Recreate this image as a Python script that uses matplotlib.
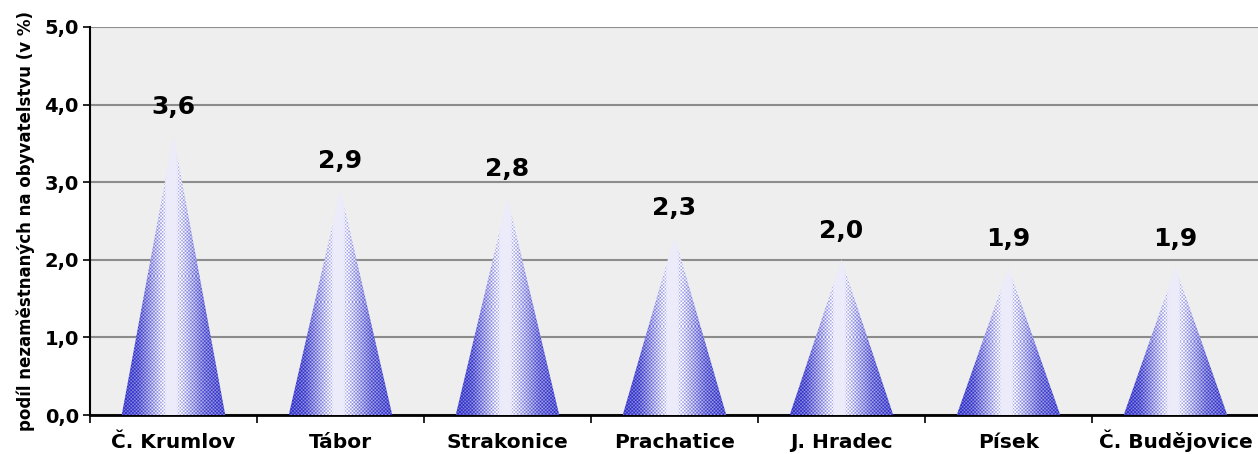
import matplotlib
matplotlib.use("Agg")
import matplotlib.pyplot as plt
import numpy as np
from matplotlib.patches import Polygon

# districts and share of unemployed in population (%)
okresy = ["Č. Krumlov", "Tábor", "Strakonice", "Prachatice", "J. Hradec", "Písek", "Č. Budějovice"]
podil = [3.6, 2.9, 2.8, 2.3, 2.0, 1.9, 1.9]
labels = ["3,6", "2,9", "2,8", "2,3", "2,0", "1,9", "1,9"]
yticks = [0, 1, 2, 3, 4, 5]
ytick_labels = ["0,0", "1,0", "2,0", "3,0", "4,0", "5,0"]

plt.rcParams['font.family'] = ['DejaVu Sans']
plt.rcParams['font.weight'] = 'bold'

fig = plt.figure(figsize=(12.58, 4.54), dpi=100)
ax = fig.add_axes([90/1258, 39/454, 1169/1258, 388/454])
ax.set_facecolor('#eeeeee')

cone_w = 0.62
blue = np.array([50, 50, 200]) / 255.0
white = np.array([252, 252, 255]) / 255.0
for i, v in enumerate(podil):
    h = int(round(v * 77.6))
    w = 104
    t = np.linspace(0, 1, w)
    # blue density across the cone: strong at edges, white near the middle
    dens = np.interp(t, [0, 0.15, 0.43, 0.52, 0.8, 1.0], [0.9, 0.78, 0.08, 0.08, 0.68, 0.85])
    xx, yy = np.meshgrid(np.arange(w), np.arange(h))
    dots = np.cos(2*np.pi*xx/3.5) * np.cos(2*np.pi*yy/3.5)
    a = np.clip(dens[None, :] + 0.3 * dots * (dens[None, :] > 0.1), 0, 1)
    img = white[None, None, :] * (1 - a[..., None]) + blue[None, None, :] * a[..., None]
    im = ax.imshow(img, extent=[i - cone_w/2, i + cone_w/2, 0, v], aspect='auto',
                   interpolation='nearest', zorder=3)
    tri = Polygon([[i - cone_w/2, 0], [i, v], [i + cone_w/2, 0]], closed=True,
                  transform=ax.transData, facecolor='none', edgecolor='none')
    ax.add_patch(tri)
    im.set_clip_path(tri)
    ax.text(i, v + 0.37, labels[i], ha='center', va='center', fontsize=18,
            fontweight='bold', zorder=4)

ax.set_xlim(-0.5, 6.5)
ax.set_ylim(0, 5)
ax.set_yticks(yticks)
ax.set_yticklabels(ytick_labels, fontsize=14, fontweight='bold')
ax.yaxis.grid(True, color='#8c8c8c', linewidth=1.5, zorder=1)
ax.set_axisbelow(True)

ax.set_xticks(np.arange(-0.5, 7, 1))
ax.set_xticklabels([])
ax.set_xticks(range(7), minor=True)
ax.set_xticklabels(okresy, minor=True, fontsize=14.5, fontweight='bold')
ax.tick_params(axis='x', which='minor', length=0, pad=24)
ax.tick_params(axis='x', which='major', length=6, width=1.2)
ax.tick_params(axis='y', length=5, width=1.2, pad=3)
for lab in ax.get_xticklabels(minor=True):
    lab.set_verticalalignment('baseline')

for s in ['top', 'right']:
    ax.spines[s].set_visible(False)
ax.spines['left'].set_linewidth(1.5)
ax.spines['bottom'].set_linewidth(2)

ax.set_ylabel("podíl nezaměstnaných na obyvatelstvu (v %)", fontsize=12,
              fontweight='bold', labelpad=7)

fig.savefig("out.png", dpi=100)
